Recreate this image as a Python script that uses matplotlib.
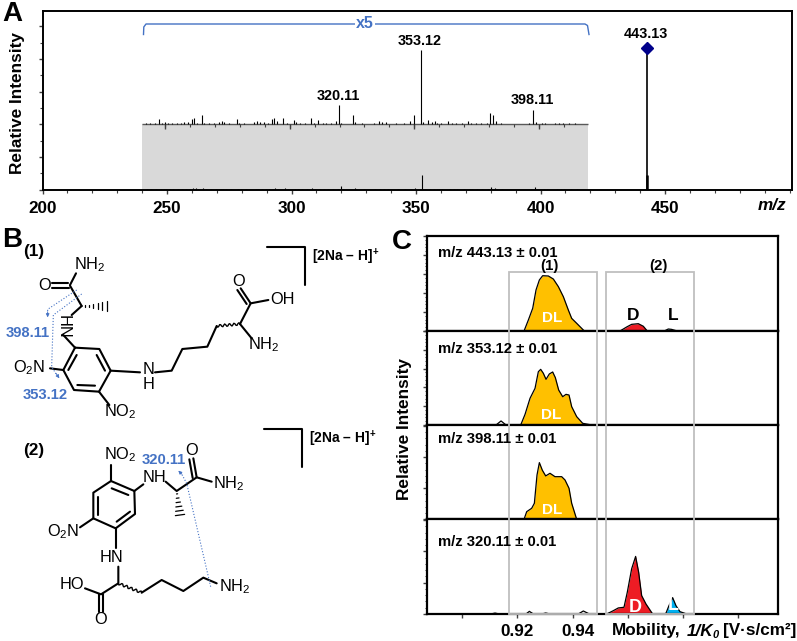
import matplotlib
matplotlib.use("Agg")
import matplotlib.pyplot as plt
import numpy as np
from matplotlib.patches import Rectangle
from matplotlib.ticker import MultipleLocator

plt.rcParams["font.family"] = ["Liberation Sans", "DejaVu Sans"]
plt.rcParams["mathtext.fontset"] = "custom"
plt.rcParams["mathtext.rm"] = "Liberation Sans"
plt.rcParams["mathtext.bf"] = "Liberation Sans:bold"
plt.rcParams["mathtext.it"] = "Liberation Sans:italic:bold"

W, H = 797, 641
BLUE = "#4472C4"
TICK = "#404040"

# panel A: m/z and relative intensity of each stick
spec_mz = [241.5, 243, 245, 246.9, 248, 249, 250.5, 252, 254, 255.5, 257, 258.5, 259.9, 261, 262,
           264, 265, 267, 269, 271, 272, 273, 275, 278, 279, 281, 285, 286, 287.5, 289, 290.5,
           292, 292.8, 294, 296.7, 298, 301, 302, 303.5, 305.5, 307.7, 309, 310.8, 312.5, 314,
           316, 318, 319.1, 320, 324.8, 325.5, 328.5, 333, 335, 336.5, 338, 342, 345, 347.5,
           349, 351.9, 353, 355, 356.5, 357.7, 358.5, 360, 363, 364.5, 366, 368.5, 371, 372,
           374, 376, 378.5, 379.7, 381, 382, 384, 395.5, 397, 398, 400.8, 402, 406, 407.5, 409,
           411.5, 414]
spec_int = [0.12, 0.2, 0.15, 0.6, 0.2, 0.3, 0.2, 0.15, 0.2, 0.2, 0.25, 0.3, 0.7, 0.8, 0.2,
            1.1, 0.2, 0.15, 0.2, 0.3, 0.4, 0.3, 0.15, 0.6, 0.2, 0.15, 0.3, 0.4, 0.3, 0.3, 0.2,
            0.6, 0.8, 0.4, 0.8, 0.15, 0.5, 0.3, 0.2, 0.2, 0.8, 0.2, 0.5, 0.2, 0.2,
            0.2, 0.4, 2.4, 0.2, 1.1, 0.3, 0.2, 0.2, 0.4, 0.3, 0.3, 0.2, 0.2, 0.4,
            1.2, 9.1, 0.3, 0.5, 0.25, 0.4, 0.2, 0.12, 0.35, 0.2, 0.15, 0.12, 0.4, 0.15,
            0.12, 0.1, 0.2, 1.35, 1.1, 0.4, 0.1, 0.2, 1.8, 0.3, 0.15, 0.1, 0.2, 0.15, 0.1,
            0.1, 0.15]
parent_mz = 442.65
parent_int = 87.0
zoom_factor = 5
zoom_base = 40
zoom_range = (240, 419)

# panel C: mobility traces, one (x, y) pair per filled peak
mob_443_dl = [0.92241, 0.92398, 0.92555, 0.92675, 0.92796, 0.92916, 0.93121, 0.93302, 0.93483, 0.93664, 0.93844, 0.93965, 0.94146, 0.94423]
int_443_dl = [0, 11.6, 23.9, 43.2, 53.7, 58.2, 57.9, 54.7, 46.7, 36.1, 22.1, 13.3, 8.1, 0]
mob_443_d = [0.95713, 0.95954, 0.96135, 0.96376, 0.96557, 0.96701]
int_443_d = [0, 4.2, 7, 7.7, 5, 0]
mob_443_l = [0.97316, 0.97461, 0.97581, 0.97786]
int_443_l = [0, 2.1, 1.7, 0]

mob_353_dl = [0.92121, 0.92277, 0.92458, 0.92639, 0.92759, 0.92844, 0.9294, 0.93037, 0.93157, 0.93278, 0.93374, 0.93495, 0.9364, 0.9376, 0.93869, 0.93965, 0.94146, 0.94363, 0.94688]
int_353_dl = [0, 11.3, 28.4, 39, 56.7, 59.2, 55, 48.6, 54.3, 56.4, 50.4, 37.2, 30.1, 32.6, 31.9, 19.5, 8.9, 1.8, 0]
mob_353_bump = [0.91228, 0.91409, 0.9159]
int_353_bump = [0, 4.3, 0]

mob_398_dl = [0.92241, 0.92338, 0.92518, 0.92615, 0.92711, 0.92796, 0.92904, 0.93025, 0.93181, 0.93362, 0.93603, 0.93724, 0.93869, 0.93965, 0.94146]
int_398_dl = [0, 8.1, 11.7, 17, 47, 60.1, 52, 46, 48.8, 45.2, 45.2, 41.7, 32.9, 17, 0]

mob_320_d = [0.95231, 0.95472, 0.95653, 0.95858, 0.95978, 0.96135, 0.96279, 0.96388, 0.96497, 0.96653, 0.96895]
int_320_d = [0, 3.5, 6.4, 7.1, 23, 47.7, 60.8, 44.2, 19.4, 10.6, 0]
mob_320_l = [0.97365, 0.97485, 0.97618, 0.97738, 0.97883, 0.98124]
int_320_l = [0, 8.8, 17.3, 8.8, 2.5, 0]
mob_320_bumps = [[0.91036, 0.91192, 0.91349], [0.92313, 0.92434, 0.92579], [0.9288, 0.93025, 0.93181], [0.94206, 0.94387, 0.94604]]
int_320_bumps = [[0, 1, 0], [0, 2.8, 0], [0, 1, 0], [0, 3.2, 0]]

mz_titles = ["m/z 443.13 ± 0.01", "m/z 353.12 ± 0.01", "m/z 398.11 ± 0.01", "m/z 320.11 ± 0.01"]


def px_axes(fig, left, top, right, bottom):
    return fig.add_axes([left / W, 1 - bottom / H, (right - left) / W, (bottom - top) / H])


fig = plt.figure(figsize=(W / 100, H / 100), dpi=100)

# panel A
ax = px_axes(fig, 42.5, 11, 792, 189.5)
ax.set_xlim(200, 501)
ax.set_ylim(0, 109.5)
ax.add_patch(Rectangle((zoom_range[0], 0), zoom_range[1] - zoom_range[0], zoom_base, color="#d9d9d9", lw=0, zorder=1))
ax.hlines(zoom_base, *zoom_range, color="#595959", lw=1, zorder=2)
ax.vlines(spec_mz, zoom_base, zoom_base + np.array(spec_int) * zoom_factor, color="black", lw=0.8, zorder=3)
ax.vlines(np.array(spec_mz) + 0.6, 0, spec_int, color="black", lw=0.8, zorder=3)
ax.vlines(parent_mz, 0, parent_int, color="black", lw=1.2, zorder=3)
ax.vlines(parent_mz + 0.2, 0, 9, color="black", lw=1.8, zorder=3)
ax.plot([parent_mz], [parent_int], marker="D", color="#00008B", ms=6, zorder=4)
ax.vlines(np.arange(249.3, 419, 10), zoom_base - 1.5, zoom_base, color=TICK, lw=0.8, zorder=2)
ax.vlines(np.arange(249.3, 419, 50), zoom_base - 3, zoom_base, color=TICK, lw=1, zorder=2)
ax.xaxis.set_major_locator(MultipleLocator(50))
ax.xaxis.set_minor_locator(MultipleLocator(10))
ax.yaxis.set_major_locator(MultipleLocator(20))
ax.yaxis.set_minor_locator(MultipleLocator(10))
ax.set_xticks([200, 250, 300, 350, 400, 450])
ax.set_xticklabels(["200", "250", "300", "350", "400", "450"], fontweight="bold", fontsize=12.3)
ax.set_yticklabels([])
ax.tick_params(axis="x", which="major", length=3, width=1, color=TICK, pad=5)
ax.tick_params(axis="x", which="minor", length=2, width=0.8, color=TICK)
ax.tick_params(axis="y", which="major", length=3, width=1, color=TICK)
ax.tick_params(axis="y", which="minor", length=2, width=0.8, color=TICK)
for s in ax.spines.values():
    s.set_linewidth(1.4)

# panel C
panel_edges = [236, 331, 425, 519.3, 614]
c_axes = []
for i in range(4):
    a = px_axes(fig, 427, panel_edges[i], 777.7, panel_edges[i + 1])
    a.set_xlim(0.8873, 1.0142)
    a.set_ylim(0, 100)
    for s in a.spines.values():
        s.set_linewidth(1.6)
    a.xaxis.set_major_locator(MultipleLocator(0.02))
    a.xaxis.set_minor_locator(MultipleLocator(0.01))
    if i < 3:
        a.tick_params(axis="x", which="both", length=0, labelbottom=False)
    else:
        a.tick_params(axis="x", which="major", length=3, width=1, color=TICK, labelbottom=False)
        a.tick_params(axis="x", which="minor", length=0)
    step = 20 if i < 2 else 33
    a.yaxis.set_major_locator(MultipleLocator(step))
    a.yaxis.set_minor_locator(MultipleLocator(step / 5))
    a.tick_params(axis="y", which="major", length=3, width=1, color=TICK, labelleft=False)
    a.tick_params(axis="y", which="minor", length=1.5, width=0.7, color=TICK)
    c_axes.append(a)


def peak(a, x, y, color=None):
    if color:
        a.fill_between(x, 0, y, color=color, lw=0)
    a.plot(x, y, color="black", lw=0.9)


peak(c_axes[0], mob_443_dl, int_443_dl, "#FFC000")
peak(c_axes[0], mob_443_d, int_443_d, "#ED1C24")
peak(c_axes[0], mob_443_l, int_443_l, "#00B0F0")
peak(c_axes[1], mob_353_dl, int_353_dl, "#FFC000")
peak(c_axes[1], mob_353_bump, int_353_bump)
peak(c_axes[2], mob_398_dl, int_398_dl, "#FFC000")
peak(c_axes[3], mob_320_d, int_320_d, "#ED1C24")
peak(c_axes[3], mob_320_l, int_320_l, "#00B0F0")
for x, y in zip(mob_320_bumps, int_320_bumps):
    peak(c_axes[3], x, y)

# page overlay in pixel coordinates for labels and the drawn structures
page = fig.add_axes([0, 0, 1, 1], zorder=10)
page.set_xlim(0, W)
page.set_ylim(H, 0)
page.axis("off")


def label(x, y, s, size=10.4, weight="bold", color="black", ha="center", **kw):
    # va=center sits about a pixel high, so nudge down
    page.text(x, y + 1, s, fontsize=size, fontweight=weight, color=color, ha=ha, va="center", **kw)


label(12, 13, "A", size=20)
label(12, 239, "B", size=20)
label(402, 241, "C", size=20)
label(18, 102, "Relative Intensity", size=12.4, rotation=90)
label(405, 428, "Relative Intensity", size=12.4, rotation=90)
label(772.5, 205, "m/z", size=12.3, style="italic")
label(338, 94.5, "320.11")
label(420, 40, "353.12")
label(532, 99.5, "398.11")
label(646, 33, "443.13")

page.plot([143.5, 143.8, 146, 585, 587.5, 589], [34.5, 27, 24, 24, 25.5, 34.5], color=BLUE, lw=1)
page.text(365, 23, "x5", fontsize=11.5, fontweight="bold", color=BLUE, ha="center", va="center",
          bbox=dict(fc="white", ec="none", pad=1))

title_y = [251.7, 347.7, 438.3, 541]
for y, t in zip(title_y, mz_titles):
    label(438, y, t, size=10.7, ha="left")

label(549, 265, "(1)", size=10.8)
label(658.7, 265, "(2)", size=10.8)
label(633, 314, "D", size=12.5)
label(672.7, 314, "L", size=12.5)
label(552, 316.7, "DL", size=11, color="white")
label(551, 414, "DL", size=11, color="white")
label(552, 509, "DL", size=11, color="white")
label(635, 606, "D", size=13, color="white")
label(673, 605, "L", size=13, color="white")

label(517.5, 630, "0.92", size=12.3)
label(577.7, 630, "0.94", size=12.3)
label(611.7, 630, "Mobility,", size=12.3, ha="left")
label(686.7, 630, "1/K", size=12.3, ha="left", style="italic")
label(712.5, 634, "0", size=8, ha="left", style="italic")
label(723.5, 630, "[V·s/cm²]", size=12.3, ha="left")

for x0 in (509, 606):
    page.add_patch(Rectangle((x0, 271.7), 88.3, 342.3, fc="none", ec="#bfbfbf", lw=1.3))


# structure outlines below are written in zoomed-crop units (3x, with a y offset)
def bonds(segments, y0, lw=1.5, color="black", ls="-"):
    for seg in segments:
        xs = [p[0] / 3 for p in seg]
        ys = [y0 + p[1] / 3 for p in seg]
        page.plot(xs, ys, color=color, lw=lw, ls=ls, solid_capstyle="round")


def hashed(p0, p1, y0, n=6, spread=14):
    # hashed wedge, dashes widen towards p1
    p0, p1 = np.array(p0, float), np.array(p1, float)
    d = p1 - p0
    nrm = np.array([-d[1], d[0]]) / np.hypot(*d)
    for t in np.linspace(0.12, 1, n):
        c = p0 + d * t
        bonds([[c - nrm * spread * t, c + nrm * spread * t]], y0, lw=0.9)


def wavy(p0, p1, y0, n=24, amp=4):
    p0, p1 = np.array(p0, float), np.array(p1, float)
    d = p1 - p0
    nrm = np.array([-d[1], d[0]]) / np.hypot(*d)
    t = np.linspace(0, 1, n)
    pts = [p0 + d * a + nrm * amp * np.sin(a * 5 * 2 * np.pi) for a in t]
    bonds([pts], y0, lw=1)


def atom(x, y, y0, s, size=11.8, **kw):
    label(x / 3, y0 + y / 3, s, size=size, weight="normal", **kw)


def arrow_tip(p0, p1, y0):
    page.annotate("", xy=(p1[0] / 3, y0 + p1[1] / 3), xytext=(p0[0] / 3, y0 + p0[1] / 3),
                  arrowprops=dict(arrowstyle="-|>", color=BLUE, lw=0.6, mutation_scale=5, shrinkA=0, shrinkB=0))


# structure (1)
y1 = 220
s1_bonds = [
    [(210, 195), (228, 160)], [(155, 188), (205, 188)], [(155, 203), (208, 203)],
    [(210, 197), (245, 258)], [(245, 258), (215, 285)], [(190, 345), (225, 383)],
    [(225, 383), (298, 387), (332, 452), (297, 515), (222, 510), (190, 450), (225, 383)],
    [(290, 405), (315, 452)], [(285, 497), (232, 495)], [(230, 405), (205, 450)],
    [(190, 450), (150, 445)], [(297, 515), (328, 555)], [(332, 452), (420, 457)],
    [(465, 457), (515, 452), (547, 387), (622, 380), (650, 318)],
    [(720, 312), (752, 250), (805, 240)], [(752, 250), (722, 205)], [(740, 252), (712, 210)],
    [(720, 312), (755, 355)],
    [(800, 80), (915, 80), (915, 195)],
]
bonds(s1_bonds, y1)
hashed((245, 258), (320, 258), y1)
wavy((650, 318), (720, 312), y1)
atom(268, 130, y1, "NH$_2$")
atom(135, 195, y1, "O")
atom(190, 318, y1, "HN", rotation=-90)
atom(87, 440, y1, "O$_2$N")
atom(360, 573, y1, "NO$_2$")
atom(445, 445, y1, "N")
atom(445, 490, y1, "H")
atom(715, 182, y1, "O")
atom(847, 235, y1, "OH")
atom(790, 370, y1, "NH$_2$")
label(33.5, 250.5, "(1)", size=12.4)
label(312, 256, r"[2Na – H]$^{\mathbf{+}}$", size=10, ha="left")
bonds([[(230, 210), (143, 268), (143, 285)], [(245, 222), (160, 285), (155, 440), (170, 465)]], y1, lw=0.8, color=BLUE, ls=":")
arrow_tip((143, 275), (143, 292), y1)
arrow_tip((168, 460), (178, 475), y1)
label(83 / 3, y1 + 337 / 3, "398.11", size=10.6, color=BLUE)
label(135 / 3, y1 + 522 / 3, "353.12", size=10.6, color=BLUE)

# structure (2)
y2 = 420
s2_bonds = [
    [(793, 27), (906, 27), (906, 140)],
    [(333, 135), (333, 183)],
    [(333, 183), (403, 213), (405, 282), (347, 325), (280, 295), (280, 218), (333, 183)],
    [(335, 205), (385, 225)], [(390, 275), (350, 305)], [(295, 285), (295, 230)],
    [(280, 295), (240, 322)], [(403, 213), (430, 193)], [(497, 185), (530, 213), (590, 172), (635, 185)],
    [(590, 172), (580, 115)], [(578, 174), (568, 118)],
    [(347, 325), (347, 385)], [(355, 440), (355, 490), (303, 523), (255, 505)],
    [(298, 523), (298, 575)], [(310, 523), (310, 575)],
    [(425, 518), (485, 480), (550, 513), (610, 473), (650, 490)],
]
bonds(s2_bonds, y2)
hashed((530, 213), (540, 285), y2)
wavy((355, 490), (425, 518), y2)
atom(360, 100, y2, "NO$_2$")
atom(190, 332, y2, "O$_2$N")
atom(465, 168, y2, "NH")
atom(575, 88, y2, "O")
atom(685, 187, y2, "NH$_2$")
atom(335, 408, y2, "HN")
atom(215, 490, y2, "HO")
atom(303, 595, y2, "O")
atom(705, 497, y2, "NH$_2$")
label(33.5, 449, "(2)", size=12.4)
label(309, 438, r"[2Na – H]$^{\mathbf{+}}$", size=10, ha="left")
bonds([[(632, 500), (560, 190), (545, 162)]], y2, lw=0.8, color=BLUE, ls=":")
arrow_tip((545, 162), (535, 152), y2)
label(492 / 3, y2 + 117 / 3, "320.11", size=10.6, color=BLUE)

fig.savefig("out.png", dpi=100)
